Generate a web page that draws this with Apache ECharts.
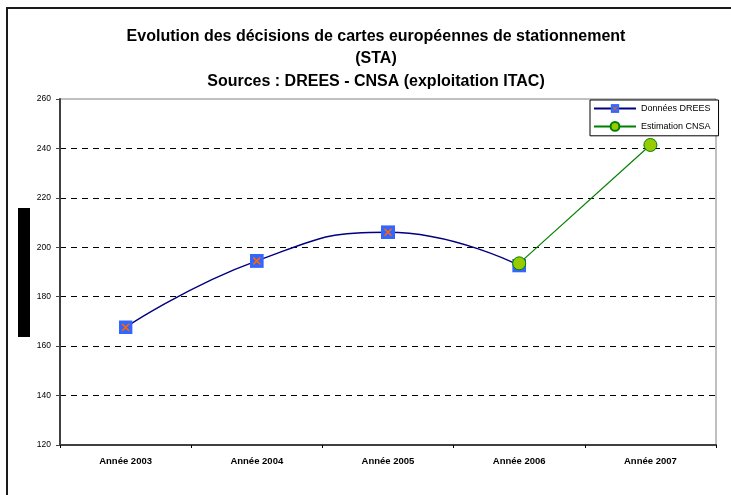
<!DOCTYPE html>
<html>
<head>
<meta charset="utf-8">
<script src="https://cdn.jsdelivr.net/npm/echarts@6/dist/echarts.min.js"></script>
<style>
html,body{margin:0;padding:0;background:#fff;}
#chart{width:731px;height:495px;}
</style>
</head>
<body>
<div id="chart"></div>
<script>
const titleLines = [
  "Evolution des décisions de cartes européennes de stationnement",
  "(STA)",
  "Sources : DREES - CNSA (exploitation ITAC)"
];
const categories = ["Année 2003", "Année 2004", "Année 2005", "Année 2006", "Année 2007"];
const dreesName = "Données DREES";
const dreesValues = [167.6, 194.5, 206.1, 192.6, null];
const cnsaName = "Estimation CNSA";
const cnsaValues = [null, null, null, 193.5, 241.4];
const yMin = 120, yMax = 260, yStep = 20;

const squareX = 'image://data:image/svg+xml;utf8,' + encodeURIComponent(
  "<svg xmlns='http://www.w3.org/2000/svg' width='28' height='28'><rect width='28' height='28' fill='#3366FF'/><path d='M7 7L21 21M21 7L7 21' stroke='#FF6600' stroke-width='3'/></svg>");

const chart = echarts.init(document.getElementById('chart'), null, {renderer: 'canvas'});
chart.setOption({
  animation: false,
  backgroundColor: '#fff',
  textStyle: {fontFamily: 'Liberation Sans, Arial, sans-serif'},
  title: {
    text: titleLines.join('\n'),
    left: 371, textAlign: 'center', top: 20,
    textStyle: {fontSize: 16, fontWeight: 'bold', color: '#000', lineHeight: 22.5, fontFamily: 'Liberation Sans, Arial, sans-serif'}
  },
  graphic: [
    {type: 'rect', shape: {x: 7, y: 8, width: 900, height: 700}, style: {fill: 'none', stroke: '#1a1a1a', lineWidth: 2}, silent: true, z: -1},
    {type: 'rect', shape: {x: 18, y: 208, width: 12, height: 129}, style: {fill: '#000'}, silent: true}
  ],
  legend: {
    orient: 'vertical',
    left: 590, top: 100,
    backgroundColor: '#fff',
    borderColor: '#000', borderWidth: 1,
    padding: [4, 8, 4, 3],
    itemWidth: 42, itemHeight: 11, itemGap: 8,
    textStyle: {fontSize: 9, color: '#000', fontFamily: 'Liberation Sans, Arial, sans-serif'},
    data: [dreesName, cnsaName]
  },
  grid: {left: 60, right: 15, top: 99, bottom: 50, show: true, borderColor: '#808080', borderWidth: 1},
  xAxis: {
    type: 'category',
    data: categories,
    boundaryGap: true,
    axisLine: {lineStyle: {color: '#404040', width: 2}},
    axisTick: {show: true, length: 3, lineStyle: {color: '#000'}},
    axisLabel: {fontSize: 9.5, fontWeight: 'bold', color: '#000', margin: 11},
    splitLine: {show: false}
  },
  yAxis: {
    type: 'value',
    min: yMin, max: yMax, interval: yStep,
    axisLine: {show: true, lineStyle: {color: '#404040', width: 2}},
    axisTick: {show: true, length: 4, lineStyle: {color: '#404040'}},
    axisLabel: {fontSize: 8.5, color: '#000', margin: 9},
    splitLine: {show: true, showMinLine: false, showMaxLine: false, lineStyle: {color: '#000', type: [6, 5], width: 1}}
  },
  series: [
    {
      name: dreesName, type: 'line', data: dreesValues,
      smooth: true,
      symbol: squareX, symbolSize: 14,
      lineStyle: {color: '#000080', width: 1.5},
      itemStyle: {color: '#000080'},
      z: 2
    },
    {
      name: cnsaName, type: 'line', data: cnsaValues,
      symbol: 'circle', symbolSize: 13,
      lineStyle: {color: '#008000', width: 1.2},
      itemStyle: {color: '#99CC00', borderColor: '#008000', borderWidth: 1},
      z: 3
    }
  ]
});
</script>
</body>
</html>
